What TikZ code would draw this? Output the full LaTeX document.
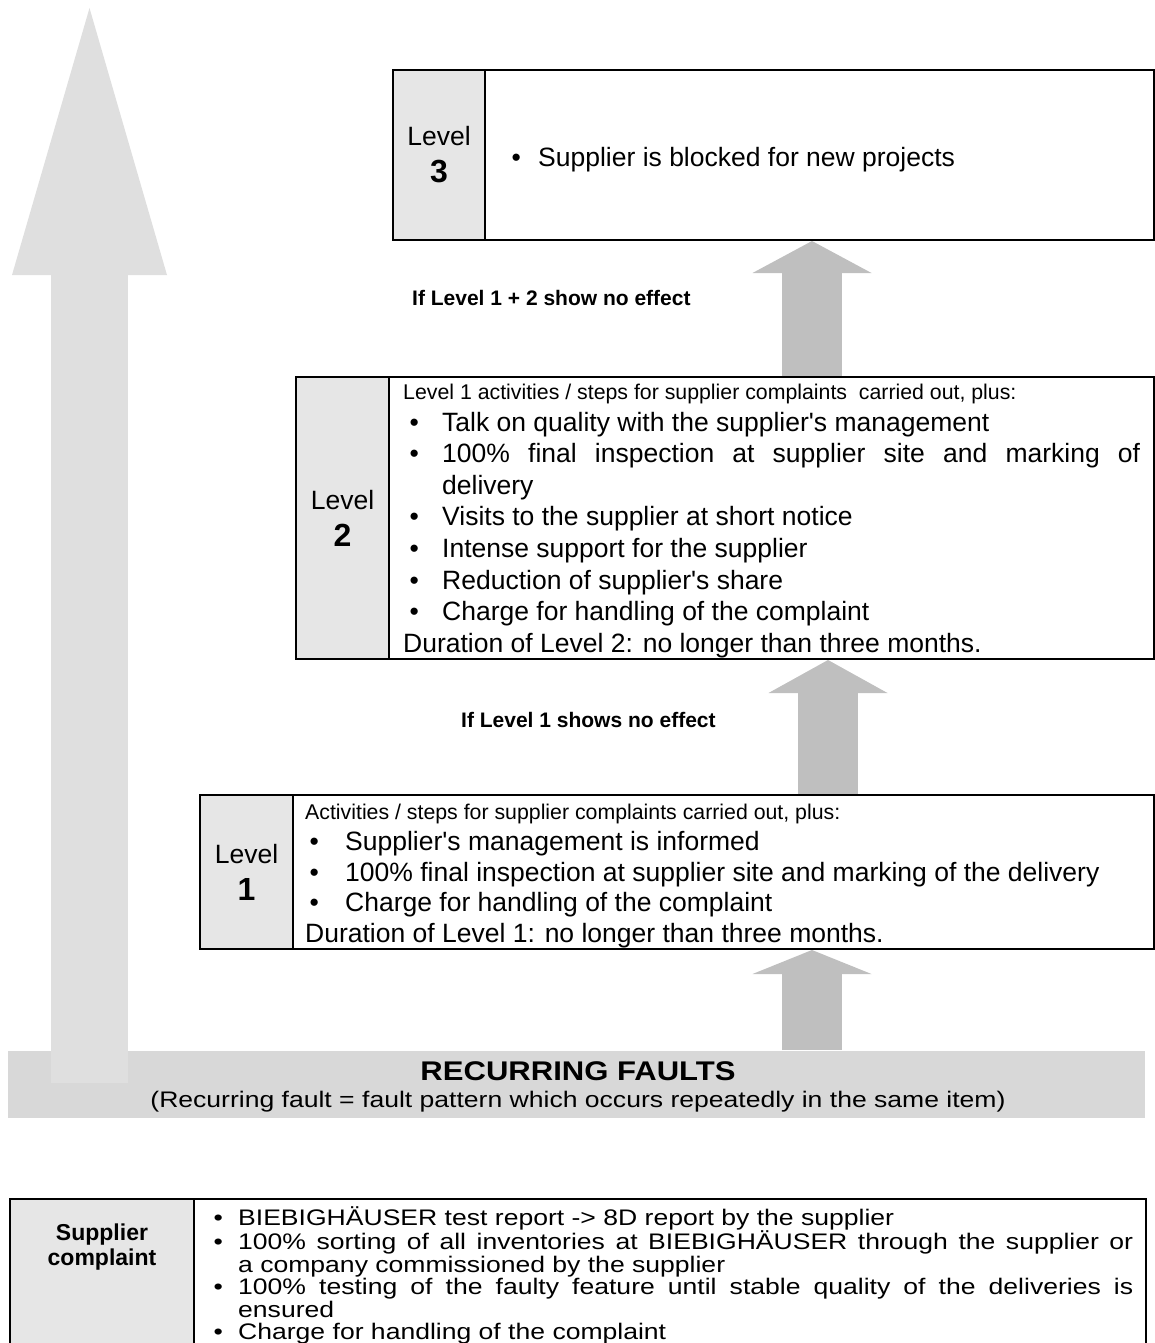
\documentclass[tikz,border=0pt]{standalone}
\usepackage{fontspec}
\setmainfont{Liberation Sans}
\newfontfamily\widefont[FakeStretch=1.18]{Liberation Sans}
\newfontfamily\titlefont[FakeStretch=1.15]{Liberation Sans}
\usetikzlibrary{positioning,arrows.meta}

\definecolor{cellgray}{HTML}{E6E6E6}
\definecolor{bandgray}{HTML}{D8D8D8}
\definecolor{biggray}{HTML}{DFDFDF}
\definecolor{arrowgray}{HTML}{BFBFBF}

\newlength{\bpre}
\newlength{\bhang}
\newcommand{\bitem}[1]{\par\hangindent=\bhang\hangafter=1\noindent\makebox[\bhang][l]{\hspace*{\bpre}\textbullet}#1}
\newcommand{\lvl}[1]{\parbox{86pt}{\centering\fontsize{26.5}{30}\selectfont Level\par\fontsize{32}{37}\selectfont\bfseries #1}}
\newcommand{\ap}{\textquotesingle}

\tikzset{
    cellbox/.style = {draw, line width=2pt, fill=white, rectangle, inner sep=0pt, outer sep=0pt, anchor=north west},
    labcell/.style = {cellbox, fill=cellgray},
    bandbox/.style = {fill=bandgray, rectangle, inner sep=0pt, outer sep=0pt, anchor=north west},
    bodytext/.style = {inner sep=0pt, anchor=base west},
    steptext/.style = {inner sep=0pt, anchor=base west, font=\bfseries\fontsize{21}{25}\selectfont},
    steparrow/.style = {draw=arrowgray, line width=60pt, shorten <=1pt, shorten >=1pt, -{Triangle[width=119pt, length=#1, line width=0pt]}},
    steparrow/.default = 32pt,
    bigarrow/.style = {draw=biggray, line width=77pt, -{Triangle[width=155pt, length=267pt, line width=0pt]}},
}

\begin{document}
\begin{tikzpicture}[x=1pt, y=1pt]
\useasboundingbox (0,0) rectangle (1155,-1343);

% recurring faults band and the long arrow
\node[bandbox, minimum width=1137pt, minimum height=67pt] (band) at (8,-1051) {};
\node[inner sep=0pt, anchor=base, font=\titlefont\bfseries\fontsize{27}{30}\selectfont] (bandtitle) at (578,-1080.5) {RECURRING FAULTS};
\node[inner sep=0pt, anchor=base, font=\widefont\fontsize{22.5}{25}\selectfont] (bandnote) at (578,-1107.5) {(Recurring fault = fault pattern which occurs repeatedly in the same item)};
\coordinate (bigfoot) at (89.5,-1083);
\coordinate (bigtip) at (89.5,-8);
\draw[bigarrow] (bigfoot) -- (bigtip);

% level 3
\node[cellbox, minimum width=761pt, minimum height=170pt] (l3txt) at (393,-70) {};
\node[labcell, minimum width=92pt, minimum height=170pt] (l3lab) at (l3txt.north west) {\lvl{3}};
\node[bodytext] (l3body) at ([xshift=26.4pt, yshift=-11.5pt]l3lab.east) {\parbox[t]{620pt}{%
    \fontsize{26.5}{31}\selectfont\setlength{\bpre}{0pt}\setlength{\bhang}{26.6pt}%
    \bitem{Supplier is blocked for new projects}}};

% level 2
\node[cellbox, minimum width=858pt, minimum height=282pt] (l2txt) at (296,-377) {};
\node[labcell, minimum width=93pt, minimum height=282pt] (l2lab) at (l2txt.north west) {\lvl{2}};
\node[bodytext] (l2body) at ([xshift=14pt, yshift=-22.5pt]l2lab.north east) {\parbox[t]{737pt}{%
    \tolerance=10000 \setlength{\bpre}{6.4pt}\setlength{\bhang}{39pt}%
    \fontsize{21.3}{25}\selectfont\noindent Level 1 activities / steps for supplier complaints~ carried out, plus:%
    \fontsize{26.5}{31.6}\selectfont
    \bitem{Talk on quality with the supplier\ap s management}
    \bitem{100\% final inspection at supplier site and marking of\linebreak delivery}
    \bitem{Visits to the supplier at short notice}
    \bitem{Intense support for the supplier}
    \bitem{Reduction of supplier\ap s share}
    \bitem{Charge for handling of the complaint}
    \par\noindent Duration of Level 2: no longer than three months.}};

% level 1
\node[cellbox, minimum width=954pt, minimum height=154pt] (l1txt) at (200,-795) {};
\node[labcell, minimum width=93pt, minimum height=154pt] (l1lab) at (l1txt.north west) {\lvl{1}};
\node[bodytext] (l1body) at ([xshift=12pt, yshift=-24.5pt]l1lab.north east) {\parbox[t]{840pt}{%
    \tolerance=10000 \setlength{\bpre}{4.4pt}\setlength{\bhang}{40pt}%
    \fontsize{21.3}{25}\selectfont\noindent Activities / steps for supplier complaints carried out, plus:%
    \fontsize{26.5}{30.8}\selectfont
    \bitem{Supplier\ap s management is informed}
    \bitem{100\% final inspection at supplier site and marking of the delivery}
    \bitem{Charge for handling of the complaint}
    \par\noindent Duration of Level 1: no longer than three months.}};

% escalation arrows
\coordinate (upperaxis) at (812,0);
\coordinate (loweraxis) at (828,0);
\draw[steparrow=24pt] (band.north -| upperaxis) -- (l1txt.south -| upperaxis);
\draw[steparrow=33pt] (l1txt.north -| loweraxis) -- (l2txt.south -| loweraxis);
\draw[steparrow=32pt] (l2txt.north -| upperaxis) -- (l3txt.south -| upperaxis);
\node[steptext] (if12) at (412,-305.5) {If Level 1 + 2 show no effect};
\node[steptext] (if1) at (461,-727.5) {If Level 1 shows no effect};

% supplier complaint table
\node[cellbox, minimum width=1136pt, minimum height=170pt] (brcell) at (10,-1199) {};
\node[labcell, minimum width=184pt, minimum height=170pt] (blcell) at (brcell.north west) {};
\node[inner sep=0pt, align=center, font=\bfseries\fontsize{23}{25}\selectfont] (blabel) at ([yshift=-48pt]blcell.north) {Supplier\\complaint};
\node[bodytext] (tbody) at ([xshift=15pt, yshift=-26pt]blcell.north east) {\parbox[t]{924pt}{%
    \tolerance=10000 \setlength{\bpre}{4.4pt}\setlength{\bhang}{29pt}%
    \widefont\fontsize{22.5}{22.5}\selectfont
    \bitem{BIEBIGHÄUSER test report -> 8D report by the supplier}
    \bitem{100\% sorting of all inventories at BIEBIGHÄUSER through the supplier or\linebreak a company commissioned by the supplier}
    \bitem{100\% testing of the faulty feature until stable quality of the deliveries is\linebreak ensured}
    \bitem{Charge for handling of the complaint}}};
\end{tikzpicture}
\end{document}
